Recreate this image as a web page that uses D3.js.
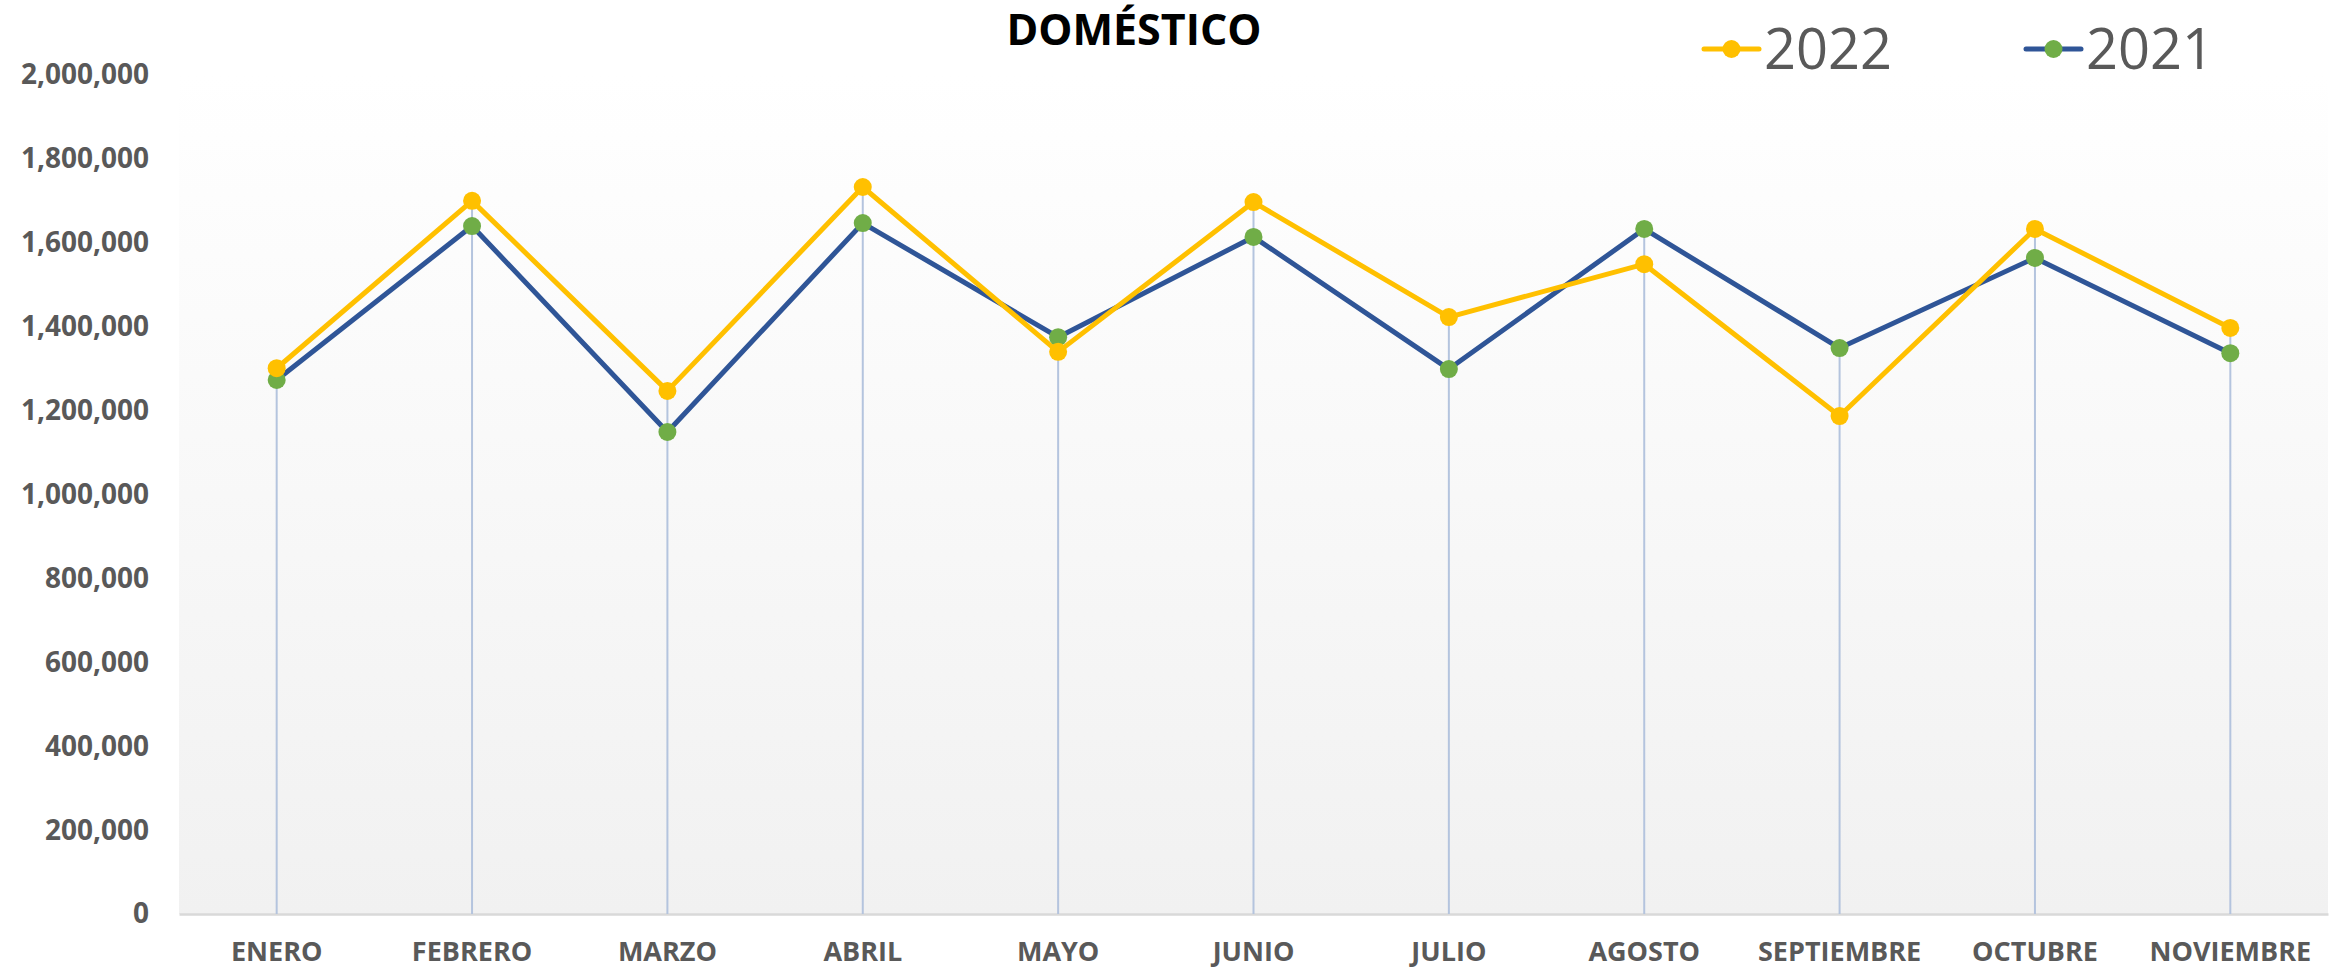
<!DOCTYPE html>
<html>
<head>
<meta charset="utf-8">
<script src="https://cdn.jsdelivr.net/npm/d3@7"></script>
<style>
  html, body { margin: 0; padding: 0; background: #fff; }
  svg { display: block; }
</style>
</head>
<body>
<script>
const months = ["ENERO", "FEBRERO", "MARZO", "ABRIL", "MAYO", "JUNIO", "JULIO", "AGOSTO", "SEPTIEMBRE", "OCTUBRE", "NOVIEMBRE"]
const values2022 = [1301000, 1700000, 1247000, 1733000, 1340000, 1697000, 1423000, 1549000, 1187000, 1633000, 1397000]
const values2021 = [1273000, 1640000, 1149000, 1647000, 1375000, 1614000, 1299000, 1633000, 1349000, 1564000, 1337000]
const yTicks = [0, 200000, 400000, 600000, 800000, 1000000, 1200000, 1400000, 1600000, 1800000, 2000000]

const width = 2338
const height = 970
const margin = { top: 75, right: 10, bottom: 56, left: 179 }

const svg = d3.select("body")
    .append("svg")
    .attr("xmlns", "http://www.w3.org/2000/svg")
    .attr("width", width)
    .attr("height", height)

const x = d3.scaleBand()
    .domain(months)
    .range([margin.left, width - margin.right])

const y = d3.scaleLinear()
    .domain([0, 2000000])
    .range([height - margin.bottom, margin.top])

const cx = d => x(d) + x.bandwidth() / 2

// plot area gradient
const defs = svg.append("defs")
const grad = defs.append("linearGradient")
    .attr("id", "plotbg")
    .attr("x1", 0).attr("y1", 0).attr("x2", 0).attr("y2", 1)
grad.append("stop").attr("offset", "0%").attr("stop-color", "#ffffff")
grad.append("stop").attr("offset", "100%").attr("stop-color", "#f1f1f1")

svg.append("rect")
    .attr("x", margin.left)
    .attr("y", y(2000000))
    .attr("width", width - margin.right - margin.left)
    .attr("height", y(0) - y(2000000))
    .attr("fill", "url(#plotbg)")

// y axis labels (no line)
const yAxis = d3.axisLeft(y)
    .tickValues(yTicks)
    .tickFormat(d3.format(","))
    .tickSize(0)
    .tickPadding(30)

svg.append("g")
    .attr("transform", `translate(${margin.left},0)`)
    .call(yAxis)
    .call(g => g.select(".domain").remove())
    .selectAll("text")
    .style("font-family", "'Open Sans', sans-serif")
    .style("font-weight", "bold")
    .style("font-size", "28px")
    .style("fill", "#595959")

// x axis
const xAxis = d3.axisBottom(x).tickSize(0).tickPadding(28)
svg.append("g")
    .attr("transform", `translate(0,${y(0)})`)
    .call(xAxis)
    .call(g => g.select(".domain")
        .attr("stroke", "#d9d9d9")
        .attr("stroke-width", 2.5))
    .selectAll("text")
    .style("font-family", "'Open Sans', sans-serif")
    .style("font-weight", "bold")
    .style("font-size", "27px")
    .style("fill", "#595959")

// drop lines
svg.append("g")
    .selectAll("line")
    .data(months)
    .enter().append("line")
    .attr("x1", d => cx(d))
    .attr("x2", d => cx(d))
    .attr("y1", (d, i) => y(Math.max(values2022[i], values2021[i])))
    .attr("y2", y(0))
    .attr("stroke", "#b4c4de")
    .attr("stroke-width", 2)

const line = d3.line()
    .x((d, i) => cx(months[i]))
    .y(d => y(d))

const series = [
    { name: "2022", values: values2022, stroke: "#ffc000", fill: "#ffc000" },
    { name: "2021", values: values2021, stroke: "#2f5597", fill: "#70ad47" }
]

// draw 2021 first, 2022 on top for lines
series.slice().reverse().forEach(s => {
    svg.append("path")
        .datum(s.values)
        .attr("d", line)
        .attr("fill", "none")
        .attr("stroke", s.stroke)
        .attr("stroke-width", 5)
        .attr("stroke-linejoin", "round")
})

series.slice().reverse().forEach(s => {
    svg.append("g")
        .selectAll("circle")
        .data(s.values)
        .enter().append("circle")
        .attr("cx", (d, i) => cx(months[i]))
        .attr("cy", d => y(d))
        .attr("r", 9)
        .attr("fill", s.fill)
})

// title
svg.append("text")
    .attr("x", 1134)
    .attr("y", 45)
    .attr("text-anchor", "middle")
    .style("font-family", "'Open Sans', sans-serif")
    .style("font-weight", "bold")
    .style("font-size", "43px")
    .style("fill", "#000")
    .text("DOMÉSTICO")

// legend
const legendX = [1704, 2026]
const legend = svg.append("g")
series.forEach((s, i) => {
    const g = legend.append("g").attr("transform", `translate(${legendX[i]},49)`)
    g.append("line")
        .attr("x1", 0).attr("x2", 55)
        .attr("y1", 0).attr("y2", 0)
        .attr("stroke", s.stroke)
        .attr("stroke-width", 5)
        .attr("stroke-linecap", "round")
    g.append("circle")
        .attr("cx", 27.5).attr("cy", 0).attr("r", 9)
        .attr("fill", s.fill)
    g.append("text")
        .attr("x", 60)
        .attr("y", 20)
        .style("font-family", "'Open Sans', sans-serif")
        .style("font-size", "56px")
        .style("fill", "#595959")
        .text(s.name)
})
</script>
</body>
</html>
